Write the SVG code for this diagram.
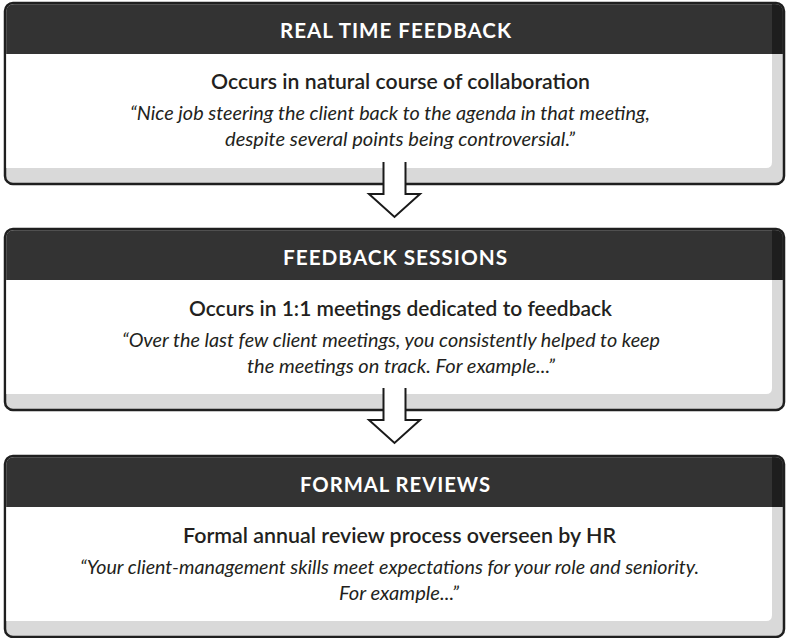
<svg xmlns="http://www.w3.org/2000/svg" width="794" height="638" viewBox="0 0 794 638">
  <style>
    .frame { fill: #d9d9d9; stroke: #1f1f1f; stroke-width: 2.5; }
    .head { fill: #333333; }
    .body { fill: #ffffff; }
    .title { font-family: Lato, "Open Sans", "Liberation Sans", sans-serif; font-weight: 700; font-size: 21px; fill: #ffffff; letter-spacing: 1px; }
    .sub { font-family: Lato, "Open Sans", "Liberation Sans", sans-serif; font-weight: 600; font-size: 21px; fill: #231f20; }
    .quote { font-family: Lato, "Open Sans", "Liberation Sans", sans-serif; font-style: italic; font-size: 19px; fill: #231f20; }
    .arrow { fill: #ffffff; stroke: #1a1a1a; stroke-width: 2; stroke-linejoin: miter; }
  </style>
  <defs>
    <g id="boxShape">
      <rect class="frame" x="5" y="0" width="779" height="181" rx="8"/>
      <path class="head" d="M6.25,51 V9 Q6.25,1.25 14,1.25 H775 Q782.75,1.25 782.75,9 V51 Z"/>
      <path d="M772,1.25 H775 Q782.75,1.25 782.75,9 V51 H772 Z" fill="#1e1e1e"/>
      <path class="body" d="M6.25,51 H772 V159 Q772,165 766,165 H6.25 Z"/>
    </g>
  </defs>

  <g id="node-real-time-feedback">
    <use href="#boxShape" transform="translate(0,3)"/>
    <text class="title" x="280" y="38" textLength="232" lengthAdjust="spacingAndGlyphs">REAL TIME FEEDBACK</text>
    <text class="sub" x="211" y="89" textLength="379" lengthAdjust="spacingAndGlyphs">Occurs in natural course of collaboration</text>
    <text class="quote" x="130" y="120" textLength="520" lengthAdjust="spacingAndGlyphs">“Nice job steering the client back to the agenda in that meeting,</text>
    <text class="quote" x="225" y="146" textLength="350" lengthAdjust="spacingAndGlyphs">despite several points being controversial.”</text>
  </g>

  <g id="node-feedback-sessions">
    <use href="#boxShape" transform="translate(0,229)"/>
    <text class="title" x="283" y="265" textLength="225" lengthAdjust="spacingAndGlyphs">FEEDBACK SESSIONS</text>
    <text class="sub" x="189" y="316" textLength="423" lengthAdjust="spacingAndGlyphs">Occurs in 1:1 meetings dedicated to feedback</text>
    <text class="quote" x="122" y="347" textLength="538" lengthAdjust="spacingAndGlyphs">“Over the last few client meetings, you consistently helped to keep</text>
    <text class="quote" x="247" y="373" textLength="308" lengthAdjust="spacingAndGlyphs">the meetings on track. For example...”</text>
  </g>

  <g id="node-formal-reviews">
    <use href="#boxShape" transform="translate(0,456)"/>
    <text class="title" x="300" y="492" textLength="191" lengthAdjust="spacingAndGlyphs">FORMAL REVIEWS</text>
    <text class="sub" x="183" y="543" textLength="433" lengthAdjust="spacingAndGlyphs">Formal annual review process overseen by HR</text>
    <text class="quote" x="80" y="574" textLength="619" lengthAdjust="spacingAndGlyphs">“Your client-management skills meet expectations for your role and seniority.</text>
    <text class="quote" x="339" y="600" textLength="120" lengthAdjust="spacingAndGlyphs">For example...”</text>
  </g>

  <g id="connectors">
    <path class="arrow" d="M383.5,162 V194 H369 L394.5,217 L420,194 H405.5 V162"/>
    <path class="arrow" d="M383.5,388 V420 H369 L394.5,443 L420,420 H405.5 V388"/>
  </g>
</svg>
